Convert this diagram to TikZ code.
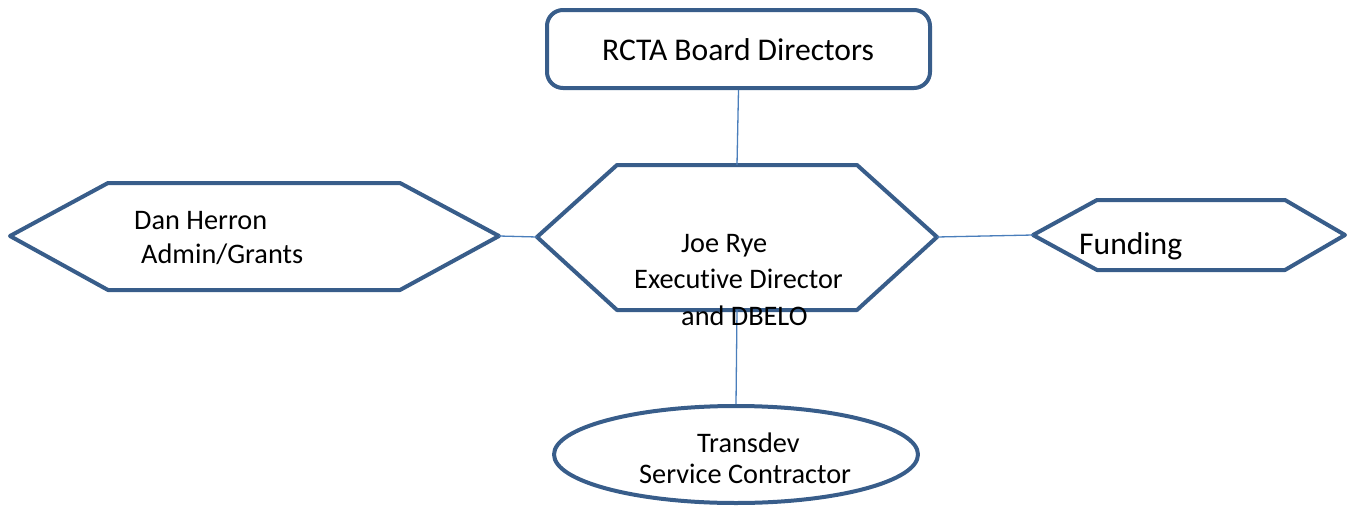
\documentclass[tikz,border=0pt]{standalone}
\usepackage{fontspec}
\setmainfont[Ligatures=NoCommon]{Carlito}
\usetikzlibrary{shapes.geometric}
\definecolor{shapeblue}{RGB}{56,93,138}
\definecolor{linkblue}{RGB}{74,126,187}

\begin{document}
\begin{tikzpicture}[x=1pt, y=-1pt,
  shp/.style={draw=shapeblue, line width=4pt, line join=round, fill=white},
  lbl/.style={anchor=base west, inner sep=0pt, font=\fontsize{28.3}{34}\selectfont},
  biglbl/.style={lbl, font=\fontsize{31.6}{38}\selectfont},
  link/.style={draw=linkblue, line width=1.3pt}]
  \useasboundingbox (0,0) rectangle (1349,506);
  % boxes
  \node[shp, rounded corners=16pt, minimum width=383pt, minimum height=78pt] (board) at (738.5,49) {};
  \draw[shp] (537,237) coordinate (exec-w) -- (617,165) -- (737,165) coordinate (exec-n) -- (857,165)
    -- (937,237) coordinate (exec-e) -- (857,310) -- (737,310) coordinate (exec-s) -- (617,310) -- cycle;
  \draw[shp] (10,236) -- (108,183) -- (400,183) -- (499,236) coordinate (dan-e) -- (400,290) -- (108,290) -- cycle;
  \draw[shp] (1033,235) coordinate (fund-w) -- (1097,200) -- (1285,200) -- (1345,235) -- (1285,270) -- (1097,270) -- cycle;
  \node[shp, ellipse, minimum width=364pt, minimum height=97pt] (trans) at (736,454.5) {};
  % links
  \path[link]
  (board.south) -- (exec-n)
  (dan-e) -- (exec-w)
  (exec-e) -- (fund-w)
  (exec-s) -- (trans.north)
  ;
  % texts
  \node[biglbl] (board-t) at (602,60) {RCTA Board Directors};
  \node[lbl] (exec-1) at (681,252) {Joe Rye};
  \node[lbl] (exec-2) at (634,288) {Executive Director};
  \node[lbl] (exec-3) at (681,325) {and DBELO};
  \node[lbl] (dan-1) at (134,229) {Dan Herron};
  \node[lbl] (dan-2) at (141,263) {Admin/Grants};
  \node[biglbl] (fund-t) at (1079,254) {Funding};
  \node[lbl] (trans-1) at (697,452) {Transdev};
  \node[lbl] (trans-2) at (639,483) {Service Contractor};
\end{tikzpicture}
\end{document}
